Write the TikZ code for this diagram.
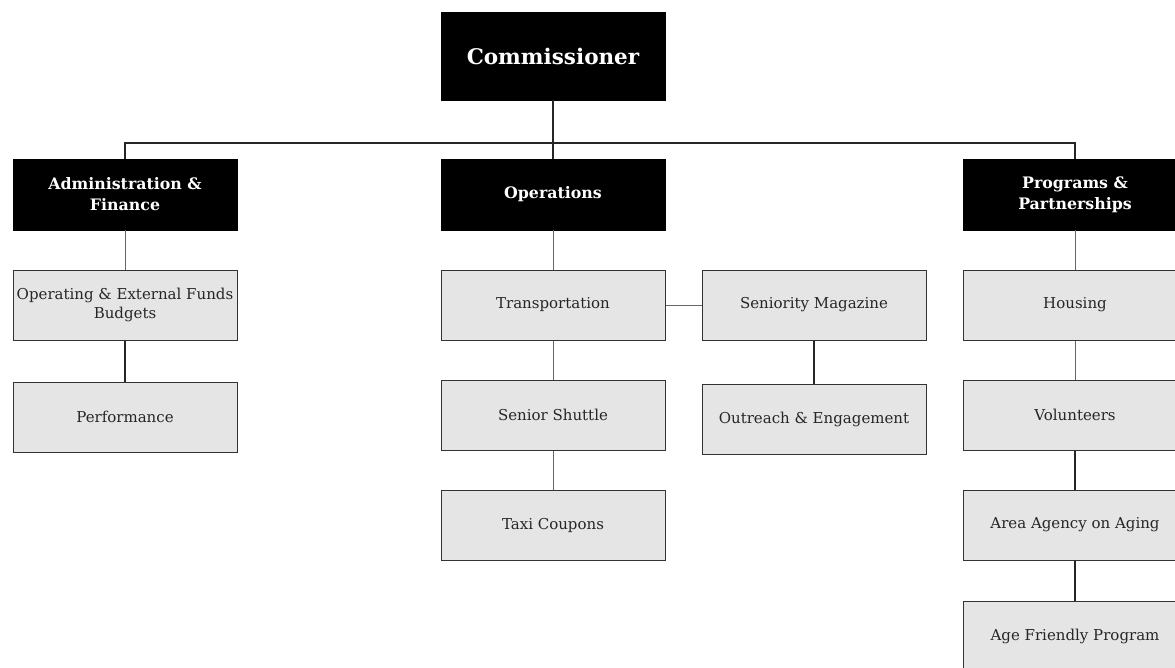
\documentclass[tikz,border=0pt]{standalone}
\usepackage{fontspec}
\setmainfont{DejaVu Serif}
\begin{document}
\begin{tikzpicture}[x=1pt,y=-1pt,
  head/.style={draw=black,fill=black,text=white,minimum width=224pt,minimum height=71pt,
    inner sep=0pt,align=center,font=\bfseries\fontsize{15.8}{21}\selectfont},
  unit/.style={draw=black!80,fill=black!10,line width=1pt,minimum width=224pt,minimum height=70pt,
    inner sep=0pt,align=center,text=black!85,font=\fontsize{15}{19.5}\selectfont},
  thinlink/.style={draw=black!60,line width=0.9pt},
  thicklink/.style={draw=black!85,line width=1.4pt}]
\useasboundingbox (0,0) rectangle (1175,667);
\begin{scope}
\clip (0,0) rectangle (1175,667);
\node[head,minimum height=88pt,font=\bfseries\fontsize{21.5}{25}\selectfont] (com) at (553,56) {Commissioner};
\node[head] (adm) at (125,194.5) {Administration \&\\Finance};
\node[head] (ops) at (553,194.5) {Operations};
\node[head] (pro) at (1075,194.5) {Programs \&\\Partnerships};
\node[unit] (opx) at (125,305) {Operating \& External Funds\\Budgets};
\node[unit] (per) at (125,417) {Performance};
\node[unit] (tra) at (553,305) {Transportation};
\node[unit] (shu) at (553,415) {Senior Shuttle};
\node[unit] (tax) at (553,525) {Taxi Coupons};
\node[unit] (mag) at (814,305) {Seniority Magazine};
\node[unit] (out) at (814,419) {Outreach \& Engagement};
\node[unit] (hou) at (1075,305) {Housing};
\node[unit] (vol) at (1075,415) {Volunteers};
\node[unit] (aaa) at (1075,525) {Area Agency on Aging};
\node[unit] (age) at (1075,636) {Age Friendly Program};
\coordinate (bus) at (553,143);
\draw[thicklink] (com.south) -- (ops.north);
\draw[thicklink] (adm.north) |- (bus) -| (pro.north);
\draw[thinlink] (adm) -- (opx);
\draw[thicklink] (opx) -- (per);
\draw[thinlink] (ops) -- (tra);
\draw[thinlink] (tra) -- (shu);
\draw[thinlink] (shu) -- (tax);
\draw[thinlink] (tra) -- (mag);
\draw[thicklink] (mag) -- (out);
\draw[thinlink] (pro) -- (hou);
\draw[thinlink] (hou) -- (vol);
\draw[thicklink] (vol) -- (aaa);
\draw[thicklink] (aaa) -- (age);
\end{scope}
\end{tikzpicture}
\end{document}
